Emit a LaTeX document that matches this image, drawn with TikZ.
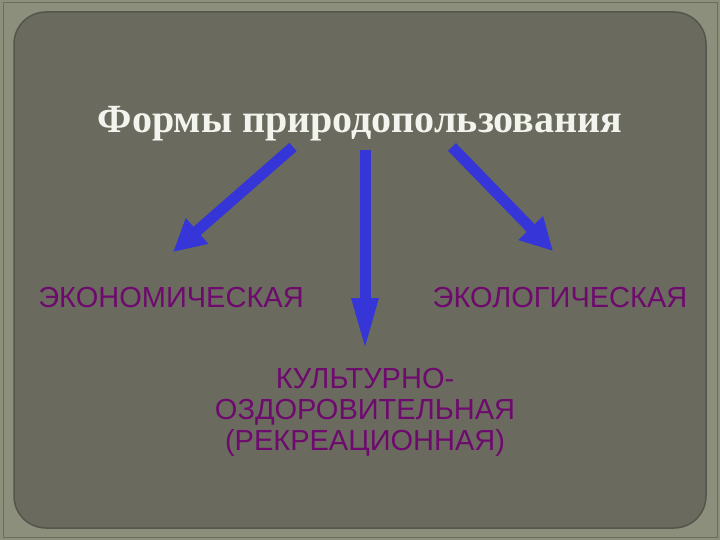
\documentclass[tikz,border=0pt]{standalone}
\usepackage{fontspec}
\setmainfont{Liberation Serif}
\newfontfamily\labelfont{Liberation Sans}
\usetikzlibrary{arrows.meta}
\definecolor{frameback}{HTML}{8C8F7C}
\definecolor{slideback}{HTML}{6A6B5E}
\definecolor{slideedge}{HTML}{55564B}
\definecolor{titlewhite}{HTML}{F4F4EE}
\definecolor{labelpurple}{HTML}{6E0A6E}
\definecolor{arrowblue}{HTML}{3535D8}
\tikzset{
    formtitle/.style = {text=titlewhite, font=\bfseries\fontsize{40}{46}\selectfont},
    formlabel/.style = {text=labelpurple, align=center, font=\labelfont\fontsize{29}{31}\selectfont},
    bigarrow/.style  = {draw=arrowblue, line width=11pt},
}
\begin{document}
\begin{tikzpicture}[x=1pt, y=-1pt]
    \useasboundingbox (0,0) rectangle (720,540);
    \fill[frameback] (0,0) rectangle (720,540);
    \draw[slideedge!60!frameback, line width=1pt] (3,3) rectangle (717,537);
    \draw[slideedge, line width=1.5pt, fill=slideback, rounded corners=32pt] (14,12) rectangle (706,528);

    \draw
        (360,124) node[formtitle](title){Формы природопользования}
        (171,298) node[formlabel](econ){ЭКОНОМИЧЕСКАЯ}
        (560,298) node[formlabel](ecol){ЭКОЛОГИЧЕСКАЯ}
        (365,412) node[formlabel](recr){КУЛЬТУРНО-\\ОЗДОРОВИТЕЛЬНАЯ\\(РЕКРЕАЦИОННАЯ)}
    ;

    \coordinate (leftstart)  at (293,147);
    \coordinate (leftend)    at (173,252);
    \coordinate (midstart)   at (365,150);
    \coordinate (midend)     at (365,352);
    \coordinate (rightstart) at (452,147);
    \coordinate (rightend)   at (553,251);

    \draw[bigarrow, -{Triangle[length=32pt, width=32pt]}] (leftstart) -- (leftend);
    \draw[bigarrow, -{Triangle[length=54pt, width=24pt]}] (midstart) -- (midend);
    \draw[bigarrow, -{Triangle[length=32pt, width=32pt]}] (rightstart) -- (rightend);

\end{tikzpicture}
\end{document}
